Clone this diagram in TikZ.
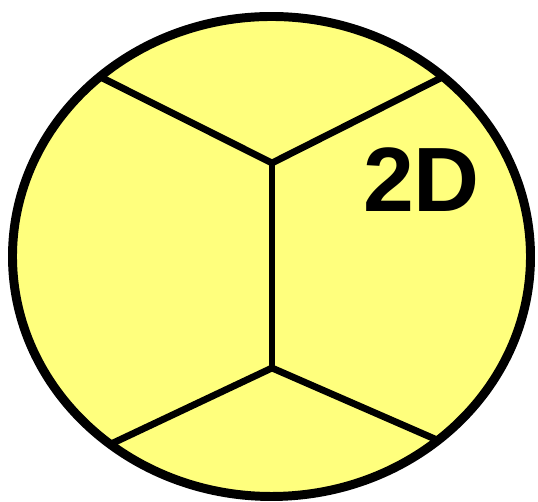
\documentclass[tikz,border=0pt]{standalone}
\usepackage{fontspec}
\setmainfont{Liberation Sans}
\usepackage{xcolor}
\usetikzlibrary{math}

\definecolor{grainyellow}{RGB}{255,255,125}

\tikzset{
  rim/.style={line width=5.1pt, fill=grainyellow},
  boundary/.style={line width=3.9pt, line cap=round},
}

\begin{document}
\begin{tikzpicture}[x=0.02cm, y=0.02cm]
\tikzmath{
\cx=271.5;
\cy=245.5;
\rx=259;
\ry=240;
}
\useasboundingbox (0,0) rectangle (538,502);

\draw[rim] (\cx,\cy) ellipse [x radius=\rx, y radius=\ry];

\coordinate (upper) at (272,339);
\coordinate (lower) at (272,134);
\coordinate (ul) at ({\cx+\rx*cos(131.5)},{\cy+\ry*sin(131.5)});
\coordinate (ur) at ({\cx+\rx*cos(48.5)},{\cy+\ry*sin(48.5)});
\coordinate (ll) at ({\cx+\rx*cos(231.5)},{\cy+\ry*sin(231.5)});
\coordinate (lr) at ({\cx+\rx*cos(310)},{\cy+\ry*sin(310)});

\draw[boundary] (ul) -- (upper) -- (ur);
\draw[boundary] (upper) -- (lower);
\draw[boundary] (ll) -- (lower) -- (lr);

\node[inner sep=0pt, font=\fontsize{52}{60}\selectfont\bfseries] (dim) at (421.5,322) {2D};

\end{tikzpicture}
\end{document}
